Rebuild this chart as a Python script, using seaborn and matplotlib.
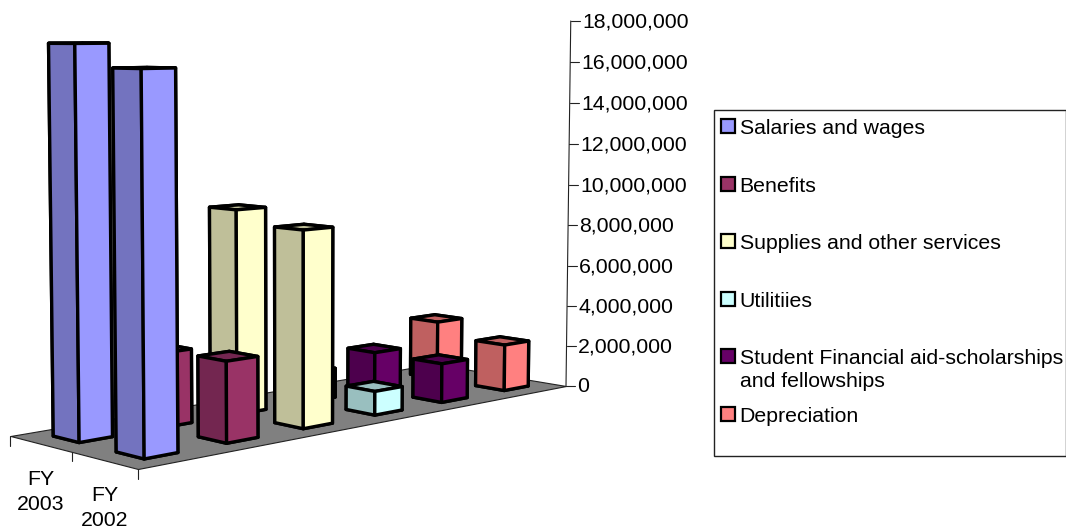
import numpy as np
import matplotlib
matplotlib.use("Agg")
import matplotlib.pyplot as plt
from matplotlib.lines import Line2D
from matplotlib.patches import Rectangle
from mpl_toolkits.mplot3d.art3d import Poly3DCollection
import seaborn as sns

# ---- data ----
categories = ["Salaries and wages", "Benefits", "Supplies and other services",
              "Utilitiies", "Student Financial aid-scholarships\nand fellowships", "Depreciation"]
fy2003 = [17050000, 3350000, 9450000, 1400000, 1850000, 2900000]
fy2002 = [16050000, 3550000, 8850000, 1100000, 1850000, 2250000]
years = ["FY\n2002", "FY\n2003"]
z_ticks = [0, 2000000, 4000000, 6000000, 8000000, 10000000, 12000000, 14000000, 16000000, 18000000]

light = ["#9999FF", "#993366", "#FFFFCC", "#CCFFFF", "#660066", "#FF8080"]
dark = ["#7373BF", "#732650", "#BFBF99", "#99BFBF", "#4D004D", "#BF6060"]

W, H = 1066, 529
sns.set_theme(style="white")
plt.rcParams["font.family"] = ["Liberation Sans", "DejaVu Sans"]
FS = 15.3
light_pal = sns.color_palette(light)
dark_pal = sns.color_palette(dark)

fig = plt.figure(figsize=(W / 100, H / 100), dpi=100, facecolor="white")
ax = fig.add_axes([0, (H - W) / 2 / H, 1, W / H], projection="3d")
ax.set_axis_off()
ax.patch.set_visible(False)
ax.apply_aspect()

# ---- camera calibration: floor plane (u, v) -> screen ----
n_cat, n_row = len(categories), len(years)
src = [(0, 0), (0, n_row), (n_cat, 0), (n_cat, n_row)]
dst = [(138, 469), (10.5, 436), (566, 386), (434, 364)]
A, b = [], []
for (u, v), (x, y) in zip(src, dst):
    A.append([u, v, 1, 0, 0, 0, -u * x, -v * x]); b.append(x)
    A.append([0, 0, 0, u, v, 1, -u * y, -v * y]); b.append(y)
h = np.linalg.solve(np.array(A, float), np.array(b, float))
G = np.array([[h[0], h[1], h[2]], [h[3], h[4], h[5]], [h[6], h[7], 1.0]])
wC = G[2] @ [n_cat, 0, 1]
hyC = G[1] @ [n_cat, 0, 1]
kw = -1.2e-9          # verticals diverge slightly upward
kx = kw * 300         # from a vanishing point below x = 300
k = (21 * (wC + kw * z_ticks[-1]) - hyC) / z_ticks[-1]
CAM = np.array([[G[0, 0], G[0, 1], kx, G[0, 2]],
                [G[1, 0], G[1, 1], k, G[1, 2]],
                [G[2, 0], G[2, 1], kw, G[2, 2]]])


def to_px(u, v, z):
    p = CAM @ np.array([u, v, z, 1.0])
    return p[0] / p[2], p[1] / p[2]


def get_proj():
    flip = np.array([[1, 0, 0], [0, -1, H], [0, 0, 1.0]])
    P = ax.transData.inverted().get_matrix() @ flip @ CAM
    return np.array([P[0], P[1], [0.5, 1.0, 0, 0.0], P[2]])


ax.get_proj = get_proj
ax.computed_zorder = False

# ---- floor ----
floor = Poly3DCollection([[(0, 0, 0), (0, n_row, 0), (n_cat, n_row, 0), (n_cat, 0, 0)]],
                         facecolors="#808080", edgecolors="#222222", linewidths=0.8, zorder=1)
ax.add_collection3d(floor)

# ---- bars, far to near ----
bw, bd = 0.40, 0.42
zo = 2
for row, vals in ((1, fy2003), (0, fy2002)):
    for i in range(n_cat - 1, -1, -1):
        L, D = light_pal[i], dark_pal[i]
        faces = [D, D, L, L, D, L]  # -z, +z, -y, +y, -x, +x
        ax.bar3d(i + 0.5 - bw / 2, row + 0.5 - bd / 2, 0, bw, bd, vals[i],
                 color=faces, edgecolor="black", linewidth=2.4, shade=False, zorder=zo)
        zo += 1

# ---- value axis ----
AXC = "#222222"
x0, y0 = to_px(n_cat, 0, z_ticks[0])
x1, y1 = to_px(n_cat, 0, z_ticks[-1])
fig.add_artist(Line2D([x0 / W, x1 / W], [1 - y0 / H, 1 - y1 / H], color=AXC, lw=0.8))
for t in z_ticks:
    px, py = to_px(n_cat, 0, t)
    fig.add_artist(Line2D([px / W, (px + 9) / W], [1 - py / H, 1 - py / H], color=AXC, lw=0.8))
    fig.text((px + 11.5) / W, 1 - (py + 1.0) / H, f"{t:,d}", fontsize=FS, color="black", ha="left", va="center")

# ---- category axis ----
for r in range(n_row + 1):
    px, py = to_px(0, r, 0)
    fig.add_artist(Line2D([px / W, px / W], [1 - py / H, 1 - (py + 9.5) / H], color=AXC, lw=0.8))
for r, label in enumerate(years):
    px, py = to_px(0, r + 0.5, 0)
    fig.text((px + 0.5) / W, 1 - (py + 48) / H, label, fontsize=FS, color="black", ha="center", va="center",
             linespacing=1.4)

# ---- legend ----
lx0, ly0, lx1, ly1 = 714, 110, 1066, 456
fig.add_artist(Rectangle((lx0 / W, 1 - ly1 / H), (lx1 - lx0) / W, (ly1 - ly0) / H, transform=fig.transFigure,
                         facecolor="white", edgecolor=AXC, lw=1.0, zorder=-1))
step = 57.6
for i, name in enumerate(categories):
    y = 126 + i * step
    fig.add_artist(Rectangle((721 / W, 1 - (y + 7) / H), 14 / W, 14 / H, transform=fig.transFigure,
                             facecolor=light_pal[i], edgecolor="black", lw=1.6))
    fig.text(739.5 / W, 1 - (y - 7) / H, name, fontsize=FS, color="black", ha="left", va="top", linespacing=1.25)

fig.savefig("out.png", dpi=100, facecolor="white")
